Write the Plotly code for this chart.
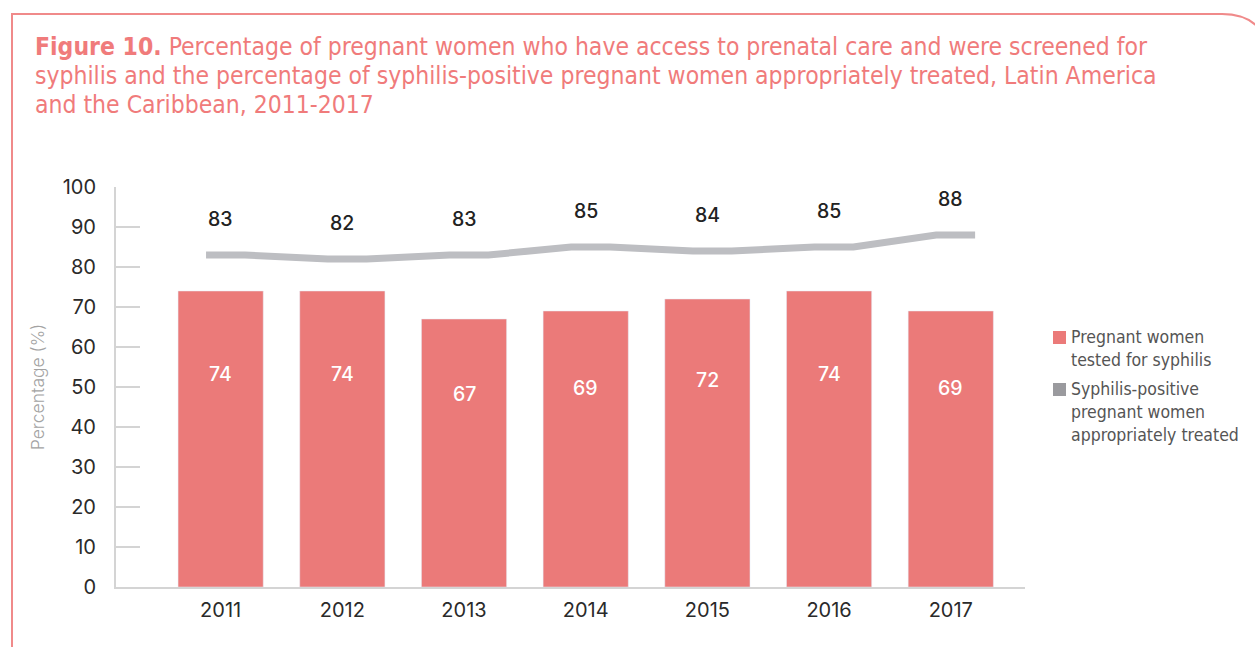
import plotly.graph_objects as go

# Data
years = [2011, 2012, 2013, 2014, 2015, 2016, 2017]
tested = [74, 74, 67, 69, 72, 74, 69]
treated = [83, 82, 83, 85, 84, 85, 88]
y_ticks = [0, 10, 20, 30, 40, 50, 60, 70, 80, 90, 100]
series_names = [
    ["Pregnant women", "tested for syphilis"],
    ["Syphilis-positive", "pregnant women", "appropriately treated"],
]
title_lines = [
    "<b>Figure 10.</b> Percentage of pregnant women who have access to prenatal care and were screened for",
    "syphilis and the percentage of syphilis-positive pregnant women appropriately treated, Latin America",
    "and the Caribbean, 2011-2017",
]

BAR_COLOR = "#eb7a79"
LINE_COLOR = "#bdbec2"
SWATCH_COLORS = [BAR_COLOR, "#9a9a9e"]
TITLE_COLOR = "#f07b7b"
COND_FONT = "Liberation Sans Narrow, DejaVu Sans Condensed, Roboto, sans-serif"
NUM_FONT = "Inter, Roboto, sans-serif"

W, H = 1255, 647
ML, MR, MT, MB = 116, 230, 187, 60
PW, PH = W - ML - MR, H - MT - MB


def px(x):
    return (x - ML) / PW


def py(y):
    return (H - MB - y) / PH


# Treated line: a short plateau around each year joined by sloped segments
line_x, line_y = [], []
for yr, v in zip(years, treated):
    line_x += [yr - 0.12, yr + 0.2]
    line_y += [v, v]

fig = go.Figure()
fig.add_trace(go.Bar(
    x=years, y=tested, width=0.7, marker_color=BAR_COLOR,
    name=" ".join(series_names[0]), hoverinfo="y", showlegend=False,
))
fig.add_trace(go.Scatter(
    x=line_x, y=line_y, mode="lines",
    line=dict(color=LINE_COLOR, width=7),
    name=" ".join(series_names[1]), showlegend=False, hoverinfo="skip",
))

annotations = []
for yr, v in zip(years, tested):
    annotations.append(dict(
        x=yr, y=v * 0.72, xref="x", yref="y", text=str(v), showarrow=False,
        font=dict(family=NUM_FONT, size=19.5, color="white", weight=500),
    ))
for yr, v in zip(years, treated):
    annotations.append(dict(
        x=yr, y=v + 9, xref="x", yref="y", text=str(v), showarrow=False,
        font=dict(family=NUM_FONT, size=19.5, color="#222222", weight=500),
    ))

# title, one line at a time
for i, line in enumerate(title_lines):
    annotations.append(dict(
        x=px(33), y=py(47 + 29 * i), xref="paper", yref="paper",
        xanchor="left", yanchor="middle", align="left", text=line, showarrow=False,
        font=dict(family=COND_FONT, size=24.5, color=TITLE_COLOR),
    ))

shapes = []
# legend drawn by hand: a square swatch next to the first line of each label
item_tops = [337, 389]
for top, names, col in zip(item_tops, series_names, SWATCH_COLORS):
    shapes.append(dict(type="rect", xref="paper", yref="paper",
                       x0=px(1053), x1=px(1066), y0=py(top - 6), y1=py(top + 7),
                       fillcolor=col, line=dict(width=0)))
    for j, txt in enumerate(names):
        annotations.append(dict(
            x=px(1069), y=py(top + 23 * j), xref="paper", yref="paper",
            xanchor="left", yanchor="middle", text=txt, showarrow=False,
            font=dict(family=COND_FONT, size=17.5, color="#555555"),
        ))

# pink frame with a rounded top-right corner
frame_path = (f"M {px(12)} {py(700)} L {px(12)} {py(14)} L {px(1222)} {py(14)} "
              f"Q {px(1262)} {py(14)} {px(1270)} {py(52)}")
shapes.append(dict(type="path", xref="paper", yref="paper", path=frame_path,
                   line=dict(color="#f08a8a", width=2)))

fig.update_layout(
    width=W, height=H,
    margin=dict(l=ML, r=MR, t=MT, b=MB, autoexpand=False),
    paper_bgcolor="white", plot_bgcolor="white",
    showlegend=False,
    xaxis=dict(
        range=[2010.14, 2017.61], tickvals=years, ticktext=[str(y) for y in years],
        showgrid=False, zeroline=False, showline=True, linecolor="#d4d4d4", linewidth=2,
        ticks="", tickfont=dict(family=NUM_FONT, size=20, color="#2a2a2a"),
        ticklabelstandoff=4,
    ),
    yaxis=dict(
        range=[0, 100], tickvals=y_ticks, showgrid=False, zeroline=False,
        showline=True, linecolor="#d4d4d4", linewidth=2,
        ticks="inside", ticklen=24, tickcolor="#d4d4d4", tickwidth=1.5,
        tickfont=dict(family=NUM_FONT, size=20, color="#2a2a2a"),
        ticklabelstandoff=14,
        title=dict(text="Percentage (%)", standoff=14,
                   font=dict(family=NUM_FONT, size=17.5, color="#a3a3a3", weight=300)),
    ),
    annotations=annotations,
    shapes=shapes,
)

fig.write_html("out.html")
